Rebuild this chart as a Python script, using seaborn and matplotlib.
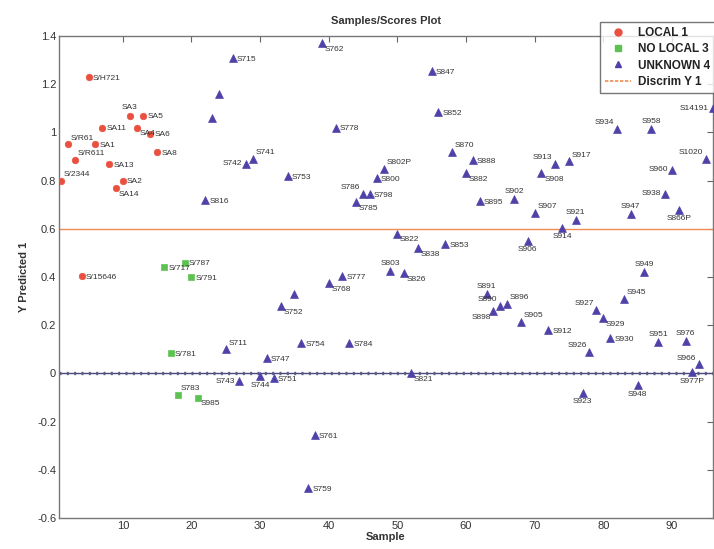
import matplotlib
matplotlib.use("Agg")
import matplotlib.pyplot as plt
from matplotlib.lines import Line2D
import seaborn as sns
import pandas as pd

# ---------------- data ----------------
local_x = [5, 11, 13, 7, 12, 14, 2, 6, 15, 3, 8, 1, 10, 9, 4]
local_y = [1.23, 1.07, 1.07, 1.02, 1.02, 0.995, 0.95, 0.95, 0.92, 0.885, 0.87, 0.80, 0.80, 0.77, 0.405]
local_lab = ["S/H721", "SA3", "SA5", "SA11", "SA4", "SA6", "S/R61", "SA1", "SA8", "S/R611",
             "SA13", "S/2344", "SA2", "SA14", "S/15646"]

nolocal_x = [16, 19, 20, 17, 18, 21]
nolocal_y = [0.44, 0.46, 0.40, 0.083, -0.09, -0.10]
nolocal_lab = ["S/717", "S/787", "S/791", "S/781", "S783", "S985"]

unk_x = [26, 24, 23, 22, 39, 55, 56, 41, 28, 29, 34, 48, 47, 45, 46, 44, 58, 61, 60, 62,
         67, 70, 71, 73, 75, 69, 74, 76, 82, 87, 96, 95, 90, 89, 91, 84, 50, 53, 57, 49,
         51, 42, 40, 35, 33, 36, 43, 31, 25, 27, 30, 32, 52, 38, 37, 63, 64, 65, 66, 68,
         72, 79, 80, 83, 81, 78, 88, 92, 94, 93, 85, 77, 86]
unk_y = [1.31, 1.16, 1.06, 0.72, 1.37, 1.255, 1.085, 1.02, 0.87, 0.89, 0.82, 0.85, 0.81, 0.745, 0.745, 0.71, 0.92, 0.885, 0.83, 0.715,
         0.725, 0.665, 0.83, 0.87, 0.88, 0.55, 0.605, 0.635, 1.015, 1.015, 1.10, 0.89, 0.845, 0.745, 0.68, 0.66, 0.58, 0.52, 0.535, 0.425,
         0.415, 0.405, 0.375, 0.33, 0.28, 0.125, 0.125, 0.062, 0.10, -0.033, -0.012, -0.02, 0.0, -0.255, -0.475, 0.33, 0.26, 0.28, 0.29, 0.215,
         0.18, 0.265, 0.23, 0.31, 0.145, 0.09, 0.13, 0.135, 0.037, 0.005, -0.05, -0.08, 0.42]
unk_lab = ["S715", "", "", "S816", "S762", "S847", "S852", "S778", "S742", "S741", "S753", "S802P", "S800", "S786", "S798", "S785", "S870", "S888", "S882", "S895",
           "S902", "S907", "S908", "S913", "S917", "S906", "S914", "S921", "S934", "S958", "S14191", "S1020", "S960", "S938", "S866P", "S947", "S822", "S838", "S853", "S803",
           "S826", "S777", "S768", "", "S752", "S754", "S784", "S747", "S711", "S743", "S744", "S751", "S821", "S761", "S759", "S891", "S898", "S890", "S896", "S905",
           "S912", "S927", "S929", "S945", "S930", "S926", "S951", "S976", "S966", "S977P", "S948", "S923", "S949"]

classes = ["LOCAL 1", "NO LOCAL 3", "UNKNOWN 4"]
discrim_y = 0.6
x_ticks = [10, 20, 30, 40, 50, 60, 70, 80, 90]
y_ticks = [-0.6, -0.4, -0.2, 0, 0.2, 0.4, 0.6, 0.8, 1.0, 1.2, 1.4]
y_tick_labels = ["-0.6", "-0.4", "-0.2", "0", "0.2", "0.4", "0.6", "0.8", "1", "1.2", "1.4"]

# label placement (style only)
label_pos = {
    "SA3": "a", "SA4": "br", "S/R61": "ar", "S/R611": "ar", "S/2344": "ar", "SA14": "br",
    "S783": "ar", "S985": "br",
    "S762": "br", "S742": "l", "S741": "ar", "S802P": "ar", "S786": "al", "S785": "br",
    "S870": "ar", "S882": "br", "S902": "a", "S907": "ar", "S908": "br", "S913": "al",
    "S917": "ar", "S906": "b", "S914": "b", "S921": "a", "S934": "al", "S958": "a",
    "S14191": "l", "S1020": "al", "S960": "l", "S938": "l", "S866P": "b", "S947": "a",
    "S822": "br", "S838": "br", "S803": "a", "S826": "br", "S768": "br", "S752": "br",
    "S711": "ar", "S743": "l", "S744": "b", "S821": "br", "S891": "a", "S898": "bl",
    "S890": "al", "S896": "ar", "S905": "ar", "S927": "al", "S929": "br", "S945": "ar",
    "S926": "al", "S951": "a", "S976": "a", "S966": "al", "S977P": "b", "S948": "b",
    "S923": "b", "S949": "a",
}
offsets = {
    "r": ((3, -1), "left", "center"), "a": ((0, 3), "center", "bottom"),
    "b": ((0, -4), "center", "top"), "l": ((-3, 0), "right", "center"),
    "ar": ((2, 2), "left", "bottom"), "br": ((2, -2), "left", "top"),
    "al": ((-2, 2), "right", "bottom"), "bl": ((-2, -2), "right", "top"),
}

# ---------------- figure ----------------
sns.set_style("white")
plt.rcParams["font.family"] = ["Liberation Sans", "DejaVu Sans"]

fig = plt.figure(figsize=(7.14, 5.49), dpi=100)
ax = fig.add_axes([59 / 714, 1 - 518 / 549, 654 / 714, 482 / 549])

colors = {"LOCAL 1": "#e9503f", "NO LOCAL 3": "#5ec253", "UNKNOWN 4": "#4e42a8"}
markers = {"LOCAL 1": "o", "NO LOCAL 3": "s", "UNKNOWN 4": "^"}
sizes = {"LOCAL 1": 22, "NO LOCAL 3": 22, "UNKNOWN 4": 32}

groups = [(classes[0], local_x, local_y, local_lab),
          (classes[1], nolocal_x, nolocal_y, nolocal_lab),
          (classes[2], unk_x, unk_y, unk_lab)]

ax.axhline(discrim_y, color="#f08a50", lw=1.0, zorder=1)
ax.axhline(0, color="#4a4a78", lw=1.0, zorder=1)
ax.axhline(0, color="#5a5a88", lw=2.4, ls=(0, (0.6, 1.6)), zorder=1)

for cls, xs, ys, labs in groups:
    df = pd.DataFrame({"Sample": xs, "Y": ys, "Class": cls})
    sns.scatterplot(data=df, x="Sample", y="Y", ax=ax, color=colors[cls],
                    marker=markers[cls], s=sizes[cls], edgecolor=colors[cls],
                    linewidth=0.5, legend=False, zorder=3)
    for xv, yv, lb in zip(xs, ys, labs):
        if not lb:
            continue
        (dx, dy), ha, va = offsets[label_pos.get(lb, "r")]
        ax.annotate(lb, (xv, yv), xytext=(dx, dy), textcoords="offset points",
                    ha=ha, va=va, fontsize=6, color="#333333", zorder=4)

ax.set_xlim(0.7, 96)
ax.set_ylim(-0.6, 1.4)
ax.set_xticks(x_ticks)
ax.set_yticks(y_ticks)
ax.set_yticklabels(y_tick_labels)
ax.tick_params(direction="in", length=4, width=0.8, top=True, right=True,
               labelsize=8, colors="#666666", labelcolor="#333333", pad=2)
for sp in ax.spines.values():
    sp.set_color("#777777")
    sp.set_linewidth(1.0)

ax.set_xlabel("Sample", fontsize=8, color="#333333", labelpad=1, fontweight="bold")
ax.set_ylabel("Y Predicted 1", fontsize=8, color="#333333", labelpad=6, fontweight="bold")
ax.set_title("Samples/Scores Plot", fontsize=8, color="#333333", pad=9, fontweight="bold")

handles = [Line2D([], [], ls="none", marker=markers[c], color=colors[c], markersize=5) for c in classes]
handles.append(Line2D([], [], color="#f08a50", lw=1.2, ls=(0, (2, 1))))
leg = fig.legend(handles, classes + ["Discrim Y 1"], loc="upper left",
                 bbox_to_anchor=(600 / 714, 1 - 22 / 549), frameon=True, fancybox=False,
                 fontsize=8.5, handlelength=2.2, handletextpad=0.6, borderpad=0.45,
                 labelspacing=0.35, borderaxespad=0)
leg.get_frame().set_edgecolor("#555555")
leg.get_frame().set_linewidth(1.0)
for t in leg.get_texts():
    t.set_fontweight("bold")
    t.set_color("#222222")

fig.savefig("out.png", dpi=100)
